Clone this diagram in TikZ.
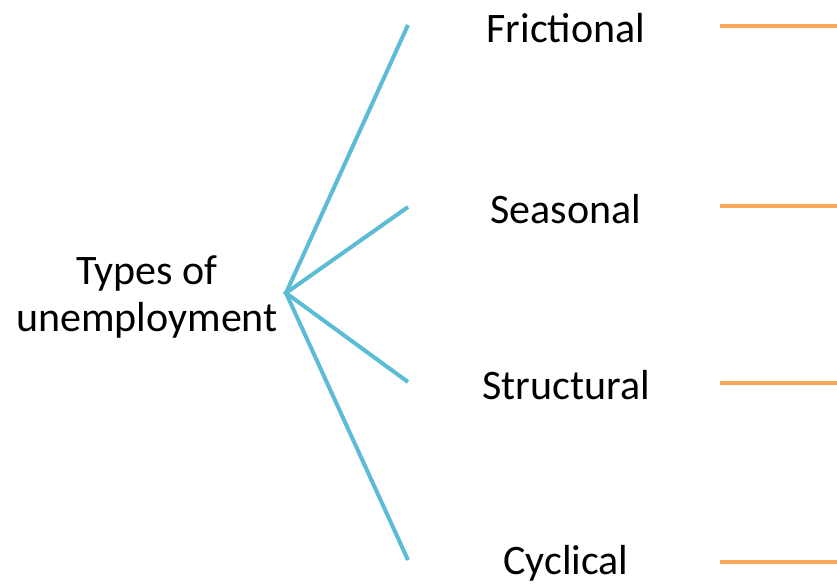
\documentclass[tikz,border=0pt]{standalone}
\usepackage{fontspec}
\setmainfont{Carlito}
\definecolor{branchblue}{HTML}{5BBCD6}
\definecolor{leadorange}{HTML}{F9A65A}
\begin{document}
\begin{tikzpicture}[x=1pt,y=-1pt,
  branch/.style={draw=branchblue,line width=4pt},
  lead/.style={draw=leadorange,line width=4pt},
  label/.style={font=\fontsize{42}{47}\selectfont,inner sep=0pt,align=center,anchor=center}]
\useasboundingbox[fill=white] (0,0) rectangle (837,586);
\coordinate (hub) at (286,293);
\node[label] (types) at (147,297) {Types of\\unemployment};
\coordinate (e1) at (408,25);
\coordinate (e2) at (408,207);
\coordinate (e3) at (408,382);
\coordinate (e4) at (408,560);
\draw[branch] (e1) -- (hub) -- (e4);
\draw[branch] (e2) -- (hub) -- (e3);
\node[label] (fr) at (566,28) {Frictional};
\node[label] (se) at (566,209) {Seasonal};
\node[label] (st) at (566,385) {Structural};
\node[label] (cy) at (566,563) {Cyclical};
\coordinate (o1a) at (720,26); \coordinate (o1b) at (837,26);
\coordinate (o2a) at (720,206); \coordinate (o2b) at (837,206);
\coordinate (o3a) at (720,383); \coordinate (o3b) at (837,383);
\coordinate (o4a) at (720,562); \coordinate (o4b) at (837,562);
\draw[lead] (o1a) -- (o1b);
\draw[lead] (o2a) -- (o2b);
\draw[lead] (o3a) -- (o3b);
\draw[lead] (o4a) -- (o4b);
\end{tikzpicture}
\end{document}
